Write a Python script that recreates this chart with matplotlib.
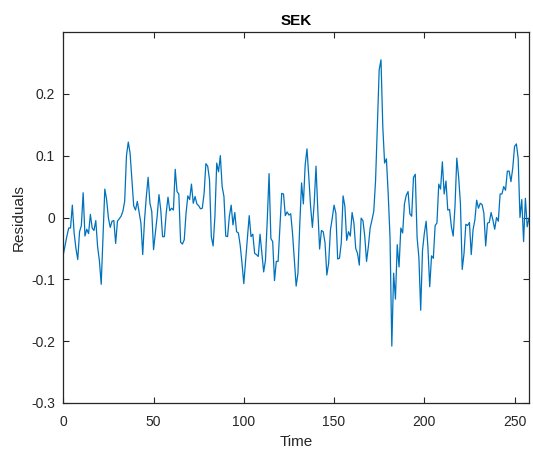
import matplotlib
matplotlib.use("Agg")
import matplotlib.pyplot as plt
import numpy as np

plt.rcParams['font.family'] = ['Liberation Sans', 'DejaVu Sans']

title = "SEK"
xlabel = "Time"
ylabel = "Residuals"
xticks = [0, 50, 100, 150, 200, 250]
yticks = [-0.3, -0.2, -0.1, 0, 0.1, 0.2]
ytick_labels = ["-0.3", "-0.2", "-0.1", "0", "0.1", "0.2"]

residuals = [
    -0.060, -0.045, -0.030, -0.017, -0.017, 0.020, -0.025, -0.050, -0.068, -0.023,
    -0.013, 0.040, -0.030, -0.019, -0.026, 0.005, -0.017, -0.021, -0.005, -0.047,
    -0.070, -0.108, -0.030, 0.046, 0.029, -0.001, -0.016, -0.006, -0.005, -0.042,
    -0.006, -0.002, 0.002, 0.010, 0.026, 0.100, 0.122, 0.104, 0.061, 0.019,
    0.012, 0.026, 0.008, -0.009, -0.060, -0.004, 0.034, 0.065, 0.023, 0.010,
    -0.052, -0.025, 0.002, 0.037, 0.012, -0.031, -0.031, 0.007, 0.033, 0.011,
    0.015, 0.012, 0.078, 0.042, 0.038, -0.040, -0.043, -0.036, 0.007, 0.035,
    0.029, 0.054, 0.023, 0.034, 0.022, 0.019, 0.014, 0.015, 0.039, 0.087,
    0.083, 0.061, -0.031, -0.046, 0.002, 0.088, 0.074, 0.100, 0.050, 0.034,
    -0.030, -0.031, 0.002, 0.020, -0.012, 0.008, -0.023, -0.025, -0.045, -0.074,
    -0.107, -0.069, -0.033, 0.003, -0.031, -0.027, -0.058, -0.060, -0.063, -0.027,
    -0.058, -0.088, -0.069, -0.004, 0.071, -0.034, -0.039, -0.102, -0.071, -0.071,
    -0.017, 0.039, 0.038, 0.003, 0.009, 0.004, 0.006, -0.026, -0.069, -0.111,
    -0.090, -0.012, 0.056, 0.022, 0.085, 0.111, 0.066, 0.018, -0.016, 0.023,
    0.083, 0.012, -0.051, -0.021, -0.023, -0.041, -0.093, -0.074, -0.020, -0.001,
    0.020, 0.007, -0.067, -0.066, -0.041, 0.035, 0.018, -0.037, -0.023, -0.030,
    0.008, -0.009, -0.050, -0.058, -0.077, -0.001, -0.005, -0.030, -0.071, -0.047,
    -0.017, -0.004, 0.010, 0.060, 0.147, 0.239, 0.255, 0.147, 0.088, 0.095,
    0.038, -0.032, -0.208, -0.090, -0.132, -0.044, -0.080, -0.017, -0.025, 0.022,
    0.036, 0.042, 0.006, 0.002, 0.065, 0.070, -0.032, -0.065, -0.150, -0.053,
    -0.026, -0.006, -0.048, -0.112, -0.062, -0.066, -0.013, -0.009, 0.054, 0.046,
    0.090, 0.038, 0.059, 0.012, 0.013, -0.015, -0.030, 0.018, 0.096, 0.066,
    0.023, -0.084, -0.058, -0.011, -0.013, -0.008, -0.060, -0.020, -0.004, 0.028,
    0.015, 0.023, 0.021, 0.007, -0.046, -0.009, -0.008, 0.008, -0.004, -0.019,
    0.000, -0.006, 0.038, 0.038, 0.050, 0.044, 0.075, 0.075, 0.058, 0.080,
    0.115, 0.119, 0.096, 0.000, 0.029, -0.039, 0.031, -0.015, -0.001, -0.015,
]
time = np.arange(len(residuals))

fig = plt.figure(figsize=(5.33, 4.55), dpi=100)
ax = fig.add_axes([63.3 / 533, 1 - 403 / 455, (529 - 63.3) / 533, (403 - 32) / 455])

ax.plot(time, residuals, color='#0072BD', linewidth=0.9)

ax.set_xlim(0, 258)
ax.set_ylim(-0.3, 0.3)
ax.set_xticks(xticks)
ax.set_yticks(yticks)
ax.set_yticklabels(ytick_labels)

dark = '#262626'
for s in ax.spines.values():
    s.set_color(dark)
    s.set_linewidth(0.9)
ax.tick_params(direction='in', top=True, right=True, length=4, width=0.8,
               colors=dark, labelsize=10, labelcolor=dark)
ax.tick_params(axis='x', pad=9)
ax.tick_params(axis='y', pad=6)

ax.set_title(title, fontsize=11, fontweight='bold', color='black', pad=5)
ax.set_xlabel(xlabel, fontsize=11, color=dark, labelpad=4)
ax.set_ylabel(ylabel, fontsize=11, color=dark, labelpad=4)

fig.savefig('out.png', dpi=100)
